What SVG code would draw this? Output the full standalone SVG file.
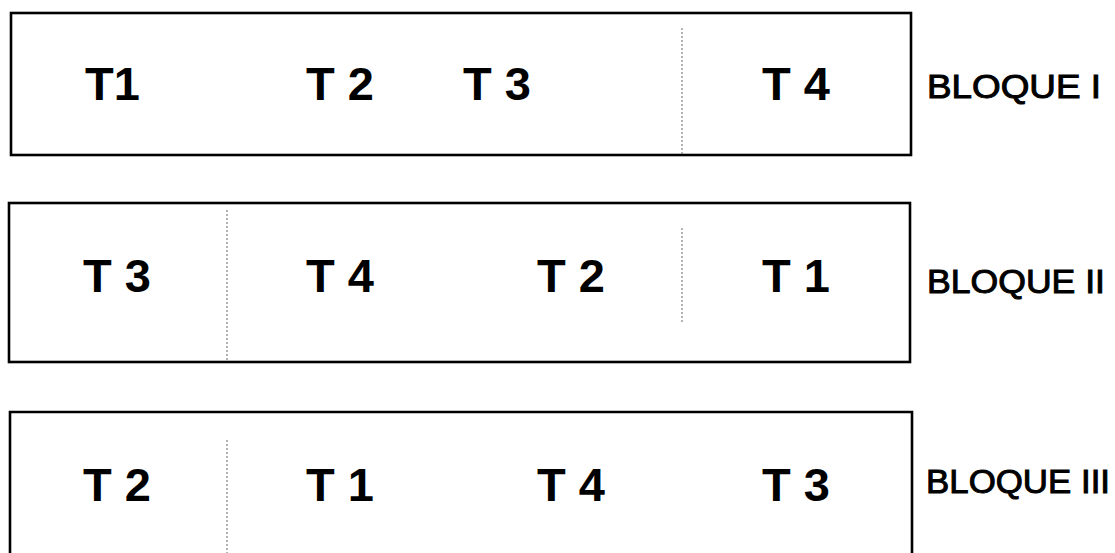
<svg xmlns="http://www.w3.org/2000/svg" width="1115" height="553" viewBox="0 0 1115 553">
  <style>
    .frame { fill: none; stroke: #000; stroke-width: 2.6; }
    .divider { fill: none; stroke: #666; stroke-width: 1; stroke-dasharray: 2 2; }
    .cell { font-family: "Liberation Sans", Arial, sans-serif; font-weight: bold; font-size: 47px; fill: #000; }
    .label { font-family: "Liberation Sans", Arial, sans-serif; font-size: 33px; fill: #000; stroke: #000; stroke-width: 1; }
  </style>
  <rect width="1115" height="553" fill="#fff"/>

  <!-- Block I -->
  <g id="bloque-1">
    <rect class="frame" x="11" y="13" width="900" height="142"/>
    <line class="divider" x1="682" y1="28" x2="682" y2="154"/>
    <text class="cell" x="85" y="100">T1</text>
    <text class="cell" x="306" y="100">T 2</text>
    <text class="cell" x="463" y="100">T 3</text>
    <text class="cell" x="762" y="100">T 4</text>
    <text class="label" x="927" y="98" textLength="174" lengthAdjust="spacingAndGlyphs">BLOQUE I</text>
  </g>

  <!-- Block II -->
  <g id="bloque-2">
    <rect class="frame" x="9" y="203" width="901" height="159"/>
    <line class="divider" x1="227" y1="210" x2="227" y2="361"/>
    <line class="divider" x1="682" y1="228" x2="682" y2="322"/>
    <text class="cell" x="83" y="292">T 3</text>
    <text class="cell" x="306" y="292">T 4</text>
    <text class="cell" x="537" y="292">T 2</text>
    <text class="cell" x="762" y="292">T 1</text>
    <text class="label" x="927" y="293" textLength="178" lengthAdjust="spacingAndGlyphs">BLOQUE II</text>
  </g>

  <!-- Block III (runs past the lower edge) -->
  <g id="bloque-3">
    <path class="frame" d="M10,560 V412 H912 V560"/>
    <line class="divider" x1="227" y1="440" x2="227" y2="553"/>
    <text class="cell" x="83" y="501">T 2</text>
    <text class="cell" x="306" y="501">T 1</text>
    <text class="cell" x="537" y="501">T 4</text>
    <text class="cell" x="762" y="501">T 3</text>
    <text class="label" x="926" y="493" textLength="184" lengthAdjust="spacingAndGlyphs">BLOQUE III</text>
  </g>
</svg>
